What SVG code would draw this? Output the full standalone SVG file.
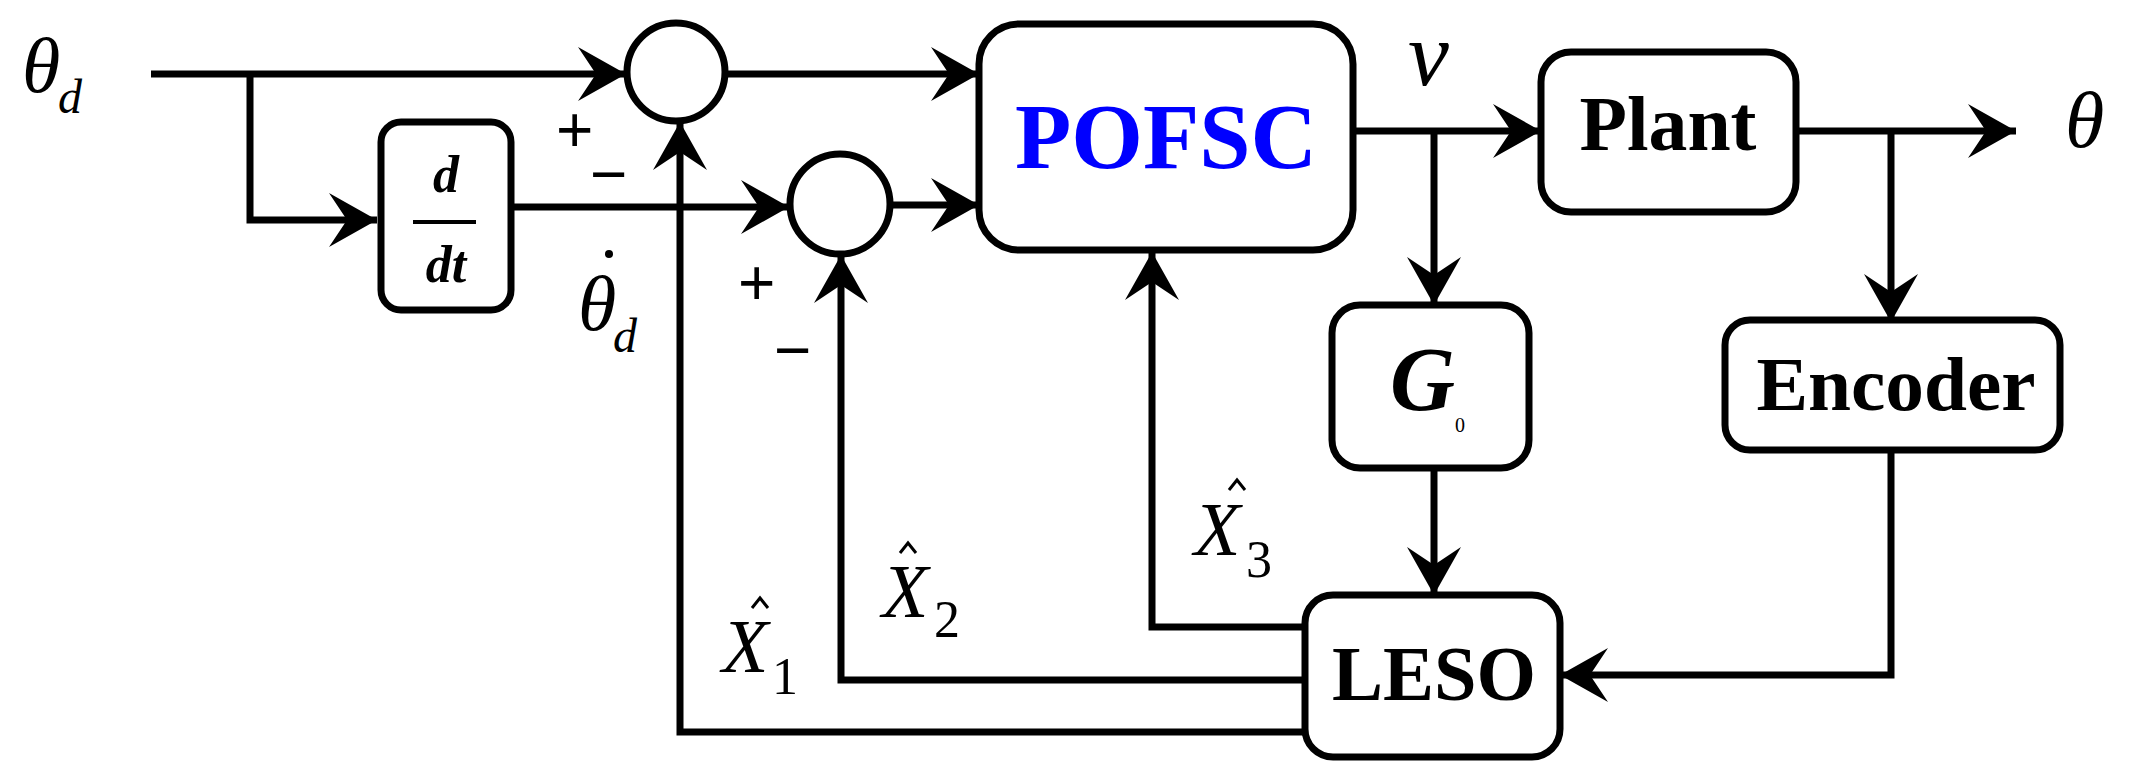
<svg xmlns="http://www.w3.org/2000/svg" width="2134" height="782" viewBox="0 0 2134 782">
<style>
.box{fill:#fff;stroke:#000;stroke-width:7}
.ln{fill:none;stroke:#000;stroke-width:7;stroke-linejoin:miter}
.lb{font-family:"Liberation Serif",serif;font-weight:bold;fill:#000}
.it{font-family:"Liberation Serif",serif;font-style:italic;fill:#000}
.up{font-family:"Liberation Serif",serif;fill:#000}
.pm{font-family:"Liberation Sans",sans-serif;fill:#000}
.hat{fill:none;stroke:#000;stroke-width:3}
</style>
<defs>
<marker id="ar" viewBox="-50 -30 52 60" refX="0" refY="0" markerWidth="52" markerHeight="60" markerUnits="userSpaceOnUse" orient="auto">
<path d="M0,0 L-48,-27 L-30,0 L-48,27 Z" fill="#000"/>
</marker>
</defs>
<rect width="2134" height="782" fill="#fff"/>
<g id="connectors">
<path class="ln" d="M151,74 H250" stroke-width="11"/>
<path class="ln" d="M250,74 H626" marker-end="url(#ar)"/>
<path class="ln" d="M250,74 V220 H377" marker-end="url(#ar)"/>
<path class="ln" d="M726,74 H979" marker-end="url(#ar)"/>
<path class="ln" d="M511,207 H789" marker-end="url(#ar)"/>
<path class="ln" d="M891,205 H979" stroke-width="4" marker-end="url(#ar)"/>
<path class="ln" d="M1305,732 H680 V122" marker-end="url(#ar)"/>
<path class="ln" d="M1305,680 H841 V255" marker-end="url(#ar)"/>
<path class="ln" d="M1305,627 H1152 V252" marker-end="url(#ar)"/>
<path class="ln" d="M1353,131 H1541" marker-end="url(#ar)"/>
<path class="ln" d="M1434,131 V305" marker-end="url(#ar)"/>
<path class="ln" d="M1796,131 H2016" marker-end="url(#ar)"/>
<path class="ln" d="M1891,131 V322" marker-end="url(#ar)"/>
<path class="ln" d="M1434,468 V595" marker-end="url(#ar)"/>
<path class="ln" d="M1891,450 V675 H1560" marker-end="url(#ar)"/>
</g>
<g id="sum1"><circle class="box" cx="676" cy="72" r="49"/></g>
<g id="sum2"><circle class="box" cx="840" cy="204" r="50"/></g>
<g id="ddt">
<rect class="box" x="381" y="122" width="130" height="188" rx="20"/>
<text class="lb" x="446" y="192" font-size="52" font-style="italic" text-anchor="middle">d</text>
<line x1="413" y1="222" x2="476" y2="222" stroke="#000" stroke-width="4"/>
<text class="lb" x="446" y="282" font-size="52" font-style="italic" text-anchor="middle">dt</text>
</g>
<g id="pofsc">
<rect class="box" x="979" y="24" width="374" height="226" rx="40"/>
<text class="lb" x="1166" y="168" font-size="94" style="fill:#0000ff" text-anchor="middle" textLength="302" lengthAdjust="spacingAndGlyphs">POFSC</text>
</g>
<g id="plant">
<rect class="box" x="1541" y="52" width="255" height="160" rx="30"/>
<text class="lb" x="1668" y="150" font-size="78" text-anchor="middle" textLength="177" lengthAdjust="spacingAndGlyphs">Plant</text>
</g>
<g id="g0">
<rect class="box" x="1332" y="305" width="197" height="163" rx="28"/>
<text class="lb" x="1390" y="410" font-size="90" font-style="italic">G</text>
<text class="up" x="1455" y="432" font-size="20">0</text>
</g>
<g id="encoder">
<rect class="box" x="1725" y="320" width="335" height="130" rx="25"/>
<text class="lb" x="1896" y="410" font-size="77" text-anchor="middle" textLength="279" lengthAdjust="spacingAndGlyphs">Encoder</text>
</g>
<g id="leso">
<rect class="box" x="1305" y="595" width="255" height="162" rx="28"/>
<text class="lb" x="1434" y="700" font-size="78" text-anchor="middle" textLength="204" lengthAdjust="spacingAndGlyphs">LESO</text>
</g>
<g id="labels">
<text class="it" x="22" y="92" font-size="78">θ</text>
<text class="it" x="58" y="113" font-size="48">d</text>
<text class="it" x="578" y="330" font-size="78">θ</text>
<text class="it" x="613" y="352" font-size="48">d</text>
<circle cx="609" cy="254" r="4" fill="#000"/>
<text class="pm" x="556" y="152" font-size="64">+</text>
<text class="pm" x="590" y="196" font-size="64">−</text>
<text class="pm" x="738" y="305" font-size="64">+</text>
<text class="pm" x="774" y="372" font-size="64">−</text>
<text class="it" x="1408" y="85" font-size="92">v</text>
<text class="it" x="2065" y="147" font-size="80">θ</text>
<text class="it" x="722" y="672" font-size="76">X</text>
<path class="hat" d="M752,608 L760,598 L768,608"/>
<text class="up" x="772" y="694" font-size="52">1</text>
<text class="it" x="882" y="617" font-size="76">X</text>
<path class="hat" d="M900,553 L908,543 L916,553"/>
<text class="up" x="934" y="637" font-size="52">2</text>
<text class="it" x="1194" y="555" font-size="76">X</text>
<path class="hat" d="M1229,490 L1237,480 L1245,490"/>
<text class="up" x="1246" y="577" font-size="52">3</text>
</g>
</svg>
